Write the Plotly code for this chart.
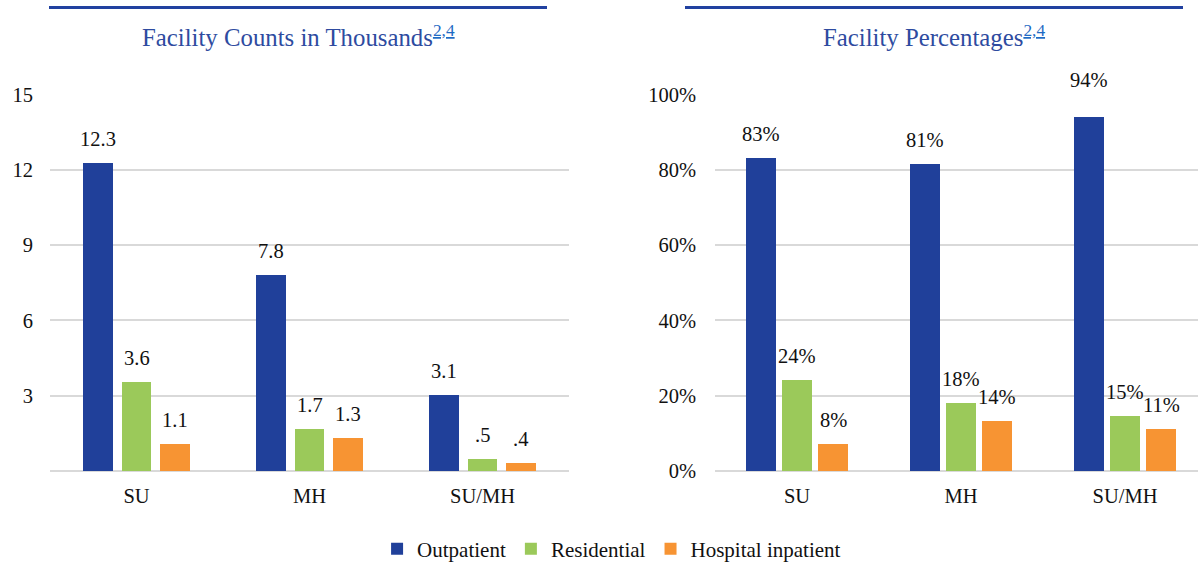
import plotly.graph_objects as go

# ---------------- data ----------------
categories = ["SU", "MH", "SU/MH"]
series_names = ["Outpatient", "Residential", "Hospital inpatient"]
series_colors = ["#20409A", "#9BC95A", "#F79433"]

# Facility counts in thousands (bar heights, printed labels)
count_outpatient = [12.28, 7.80, 3.02]
count_residential = [3.53, 1.66, 0.48]
count_hospital = [1.07, 1.33, 0.32]
count_labels_outpatient = ["12.3", "7.8", "3.1"]
count_labels_residential = ["3.6", "1.7", ".5"]
count_labels_hospital = ["1.1", "1.3", ".4"]
count_ticks = [3, 6, 9, 12, 15]

# Facility percentages
pct_outpatient = [0.830, 0.814, 0.939]
pct_residential = [0.241, 0.180, 0.146]
pct_hospital = [0.072, 0.133, 0.111]
pct_labels_outpatient = ["83%", "81%", "94%"]
pct_labels_residential = ["24%", "18%", "15%"]
pct_labels_hospital = ["8%", "14%", "11%"]
pct_ticks = [0, 0.2, 0.4, 0.6, 0.8, 1.0]

title_left = "Facility Counts in Thousands"
title_right = "Facility Percentages"
title_sup = "2,4"

# ---------------- styling ----------------
FONT = "Liberation Serif"
W, H = 1198, 564
GRID = "#D9D9D9"
TITLE_BLUE = "#2E4BA0"
SUP_BLUE = "#1F6BC4"
RULE_BLUE = "#2141A0"
TXT = "#111111"
LABEL_SHIFT = 11
# label placed higher to clear the 100% gridline (as in the reference)
EXTRA_SHIFT = {("pct", 0, 2): 13}

offsets = [-0.222, 0.0, 0.222]
base = list(range(len(categories)))

fig = go.Figure()

count_sets = [count_outpatient, count_residential, count_hospital]
count_label_sets = [count_labels_outpatient, count_labels_residential, count_labels_hospital]
pct_sets = [pct_outpatient, pct_residential, pct_hospital]
pct_label_sets = [pct_labels_outpatient, pct_labels_residential, pct_labels_hospital]

annotations = []
for k, name in enumerate(series_names):
    xs = [b + offsets[k] for b in base]
    fig.add_trace(go.Bar(
        x=xs, y=count_sets[k], width=0.173, name=name,
        marker=dict(color=series_colors[k], line=dict(width=0)),
        xaxis="x", yaxis="y", showlegend=True, legendgroup=name,
        hoverinfo="skip",
    ))
    fig.add_trace(go.Bar(
        x=xs, y=pct_sets[k], width=0.183, name=name,
        marker=dict(color=series_colors[k], line=dict(width=0)),
        xaxis="x2", yaxis="y2", showlegend=False, legendgroup=name,
        hoverinfo="skip",
    ))
    for i, (x, v, t) in enumerate(zip(xs, count_sets[k], count_label_sets[k])):
        annotations.append(dict(x=x, y=v, xref="x", yref="y", text=t, showarrow=False,
                                yanchor="bottom",
                                yshift=LABEL_SHIFT + EXTRA_SHIFT.get(("count", k, i), 0),
                                font=dict(family=FONT, size=20.5, color=TXT)))
    for i, (x, v, t) in enumerate(zip(xs, pct_sets[k], pct_label_sets[k])):
        annotations.append(dict(x=x, y=v, xref="x2", yref="y2", text=t, showarrow=False,
                                yanchor="bottom",
                                yshift=LABEL_SHIFT + EXTRA_SHIFT.get(("pct", k, i), 0),
                                font=dict(family=FONT, size=20.5, color=TXT)))

def title_text(t):
    return (f"{t}<sup><span style='color:{SUP_BLUE};text-decoration:underline'>"
            f"{title_sup}</span></sup>")

for cx, t in ((298, title_left), (934, title_right)):
    annotations.append(dict(x=cx / W, y=1 - 36 / H, xref="paper", yref="paper",
                            text=title_text(t), showarrow=False,
                            xanchor="center", yanchor="middle",
                            font=dict(family=FONT, size=24.8, color=TITLE_BLUE)))

shapes = [
    dict(type="line", xref="paper", yref="paper", x0=49 / W, x1=547 / W,
         y0=1 - 7.5 / H, y1=1 - 7.5 / H, line=dict(color=RULE_BLUE, width=3)),
    dict(type="line", xref="paper", yref="paper", x0=685 / W, x1=1183 / W,
         y0=1 - 7.5 / H, y1=1 - 7.5 / H, line=dict(color=RULE_BLUE, width=3)),
]

ydom = [1 - 471 / H, 1 - 94 / H]
axis_font = dict(family=FONT, size=20.5, color=TXT)

fig.update_layout(
    width=W, height=H,
    margin=dict(l=0, r=0, t=0, b=0, autoexpand=False),
    paper_bgcolor="white", plot_bgcolor="white",
    font=dict(family=FONT, size=20.5, color=TXT),
    showlegend=True,
    legend=dict(orientation="h", x=0.5105, xanchor="center", y=1 - 549 / H, yanchor="middle",
                font=dict(family=FONT, size=21, color=TXT), traceorder="normal",
                bgcolor="rgba(0,0,0,0)", itemclick=False),
    xaxis=dict(domain=[50 / W, 569 / W], range=[-0.5, 2.5], tickvals=base, ticktext=categories,
               showgrid=False, zeroline=False, showline=False, ticks="",
               tickfont=axis_font, ticklabelstandoff=10, fixedrange=True),
    yaxis=dict(domain=ydom, range=[0, 15.02], tickvals=count_ticks, showgrid=True,
               gridcolor=GRID, gridwidth=2, zeroline=True, zerolinecolor=GRID, zerolinewidth=2,
               showline=False, ticks="", tickfont=axis_font, ticklabelstandoff=16,
               fixedrange=True),
    xaxis2=dict(domain=[715 / W, 1.0], range=[-0.5, 2.445], tickvals=base, ticktext=categories,
                showgrid=False, zeroline=False, showline=False, ticks="",
                tickfont=axis_font, ticklabelstandoff=10, anchor="y2", fixedrange=True),
    yaxis2=dict(domain=ydom, range=[0, 1.001], tickvals=pct_ticks, tickformat=".0%",
                showgrid=True, gridcolor=GRID, gridwidth=2, zeroline=True, zerolinecolor=GRID,
                zerolinewidth=2, showline=False, ticks="", tickfont=axis_font,
                ticklabelstandoff=18, anchor="x2", fixedrange=True),
    annotations=annotations,
    shapes=shapes,
    bargap=0, barmode="overlay",
)

fig.write_html("out.html", config={"displayModeBar": False},
               post_script="document.body.style.margin='0';document.body.style.padding='0';")
